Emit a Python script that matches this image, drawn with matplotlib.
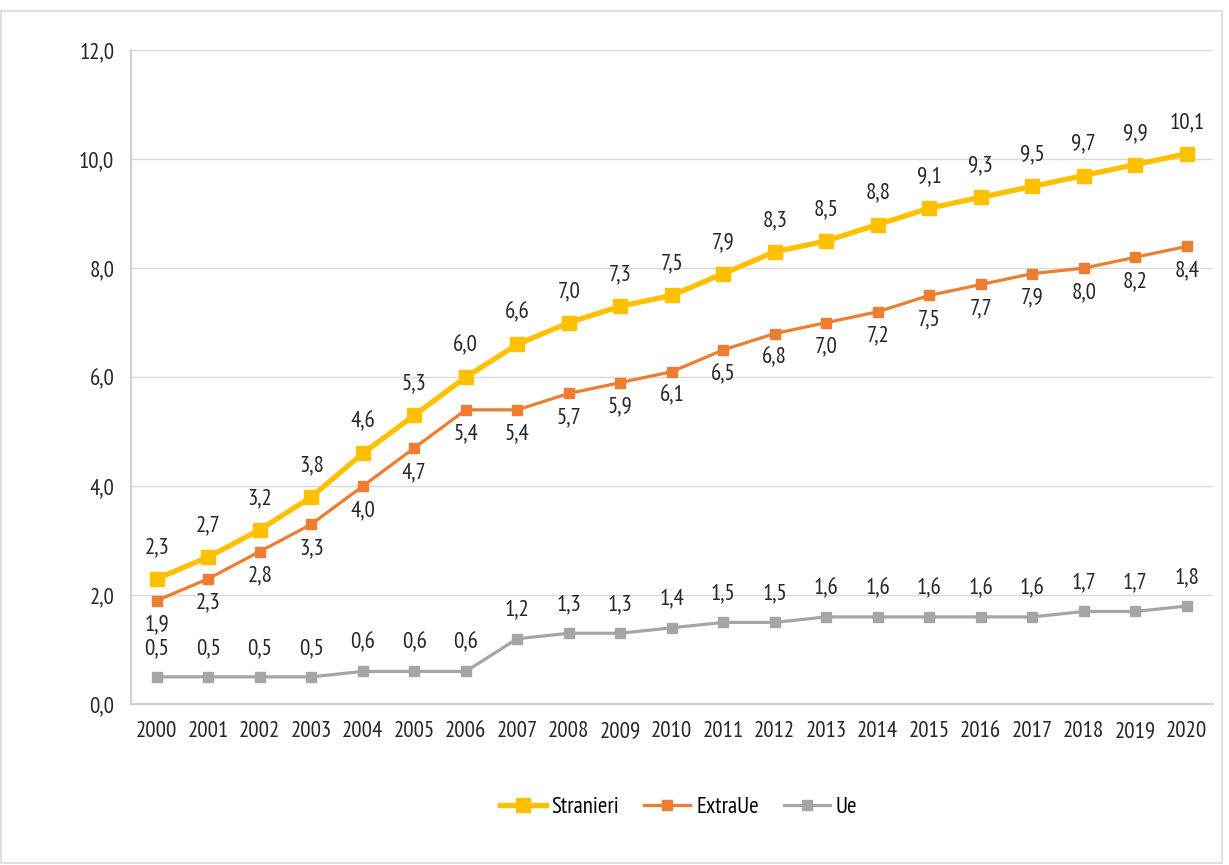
import matplotlib
matplotlib.use("Agg")
import matplotlib.pyplot as plt
from matplotlib.patches import Rectangle

plt.rcParams['font.family'] = ['PT Sans Narrow', 'Archivo Narrow', 'DejaVu Sans']

anni = [str(a) for a in range(2000, 2021)]
stranieri = [2.3, 2.7, 3.2, 3.8, 4.6, 5.3, 6.0, 6.6, 7.0, 7.3, 7.5, 7.9, 8.3, 8.5, 8.8, 9.1, 9.3, 9.5, 9.7, 9.9, 10.1]
extra_ue = [1.9, 2.3, 2.8, 3.3, 4.0, 4.7, 5.4, 5.4, 5.7, 5.9, 6.1, 6.5, 6.8, 7.0, 7.2, 7.5, 7.7, 7.9, 8.0, 8.2, 8.4]
ue = [0.5, 0.5, 0.5, 0.5, 0.6, 0.6, 0.6, 1.2, 1.3, 1.3, 1.4, 1.5, 1.5, 1.6, 1.6, 1.6, 1.6, 1.6, 1.7, 1.7, 1.8]

fig = plt.figure(figsize=(12.29, 8.65), dpi=100)
ax = fig.add_axes([0.1066, 0.186, 0.880, 0.756])

x = range(len(anni))
ax.plot(x, stranieri, color='#FFC000', lw=3.8, marker='s', ms=10, label='Stranieri', zorder=3)
ax.plot(x, extra_ue, color='#ED7D31', lw=2.3, marker='s', ms=7.5, label='ExtraUe', zorder=3)
ax.plot(x, ue, color='#A5A5A5', lw=2.3, marker='s', ms=7.5, label='Ue', zorder=3)

def fmt(v):
    return f"{v:.1f}".replace('.', ',')

fs = 16.5
for i in x:
    ax.annotate(fmt(stranieri[i]), (i, stranieri[i]), xytext=(0, 15), textcoords='offset points',
                ha='center', va='bottom', fontsize=fs, color='#262626')
    ax.annotate(fmt(extra_ue[i]), (i, extra_ue[i]), xytext=(0, -10), textcoords='offset points',
                ha='center', va='top', fontsize=fs, color='#262626')
    ax.annotate(fmt(ue[i]), (i, ue[i]), xytext=(0, 13), textcoords='offset points',
                ha='center', va='bottom', fontsize=fs, color='#262626')

ax.set_xlim(-0.5, len(anni) - 0.5)
ax.set_ylim(0, 12)
ax.set_yticks([0, 2, 4, 6, 8, 10, 12])
ax.set_yticklabels([fmt(v) for v in [0, 2, 4, 6, 8, 10, 12]])
ax.set_xticks(list(x))
ax.set_xticklabels(anni)
ax.tick_params(length=0, labelsize=fs, colors='#262626', pad=12)
ax.grid(axis='y', color='#D9D9D9', lw=1)
ax.set_axisbelow(True)
for s in ['top', 'right']:
    ax.spines[s].set_visible(False)
for s in ['left', 'bottom']:
    ax.spines[s].set_color('#D0D0D0')
    ax.spines[s].set_linewidth(1.5)

# legenda in basso, compatta come nell'originale
fig.legend(loc='center', bbox_to_anchor=(0.552, 0.066), ncol=3, frameon=False,
           fontsize=fs, handlelength=2.0, columnspacing=1.1, handletextpad=0.25)

fig.patches.append(Rectangle((0.001, 0.002), 0.993, 0.985, transform=fig.transFigure,
                             fill=False, edgecolor='#D9D9D9', lw=1.2))

fig.savefig('out.png', dpi=100)
